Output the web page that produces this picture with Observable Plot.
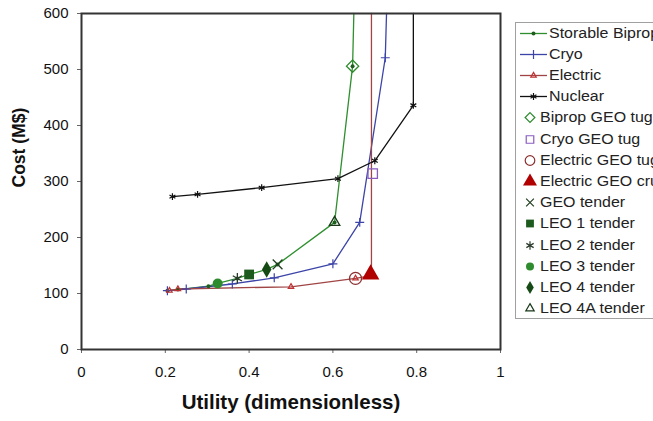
<!DOCTYPE html>
<html><head><meta charset="utf-8">
<script src="https://cdn.jsdelivr.net/npm/d3@7"></script>
<script src="https://cdn.jsdelivr.net/npm/@observablehq/plot@0.6"></script>
<style>
html,body{margin:0;padding:0;background:#fff;overflow:hidden}
#wrap{position:relative;width:653px;height:421px;overflow:hidden;font-family:"Liberation Sans",Arial,sans-serif}
#legend{position:absolute;left:515px;top:22px;width:170px;height:297px;border:1px solid #a0a0a0;box-sizing:border-box;background:#fff}
.item{position:absolute;left:0;height:21px;font-size:14px;color:#222;white-space:nowrap}
.item svg{position:absolute;top:0}
.item span{position:absolute;top:2px;transform:scaleX(1.14);transform-origin:0 50%}
</style></head>
<body><div id="wrap"><div id="chart"></div><div id="legend"></div></div>
<script>
// ---- data ----
const seriesNames = ["Storable Biprop", "Cryo", "Electric", "Nuclear"];
const bipropU = [0.205, 0.23, 0.303, 0.325, 0.372, 0.40, 0.442, 0.468, 0.604, 0.647, 0.65];
const bipropC = [105, 107, 113, 118, 127, 134, 143, 152, 227, 506, 600];
const cryoU = [0.205, 0.25, 0.36, 0.46, 0.60, 0.664, 0.725, 0.728];
const cryoC = [105, 108, 117, 128, 153, 227, 521, 600];
const electricU = [0.21, 0.23, 0.50, 0.654, 0.692, 0.692];
const electricC = [105, 108, 112, 127, 132, 600];
const nuclearU = [0.217, 0.277, 0.43, 0.612, 0.70, 0.792, 0.792];
const nuclearC = [273, 277, 289, 305, 337, 436, 600];

const pointNames = ["Biprop GEO tug", "Cryo GEO tug", "Electric GEO tug", "Electric GEO cruiser",
  "GEO tender", "LEO 1 tender", "LEO 2 tender", "LEO 3 tender", "LEO 4 tender", "LEO 4A tender"];
const pointU = [0.647, 0.695, 0.654, 0.69, 0.468, 0.40, 0.372, 0.325, 0.442, 0.604];
const pointC = [506, 314, 127, 134, 152, 134, 127, 118, 143, 227];

const xTicks = [0, 0.2, 0.4, 0.6, 0.8, 1];
const yTicks = [0, 100, 200, 300, 400, 500, 600];

// ---- styles ----
const seriesStyle = {
  "Storable Biprop": {color: "#2f8f2f", symbol: "circle", r: 2, filled: true, mcolor: "#1d5e1d"},
  "Cryo": {color: "#3c44a8", symbol: "plus", r: 3, filled: false, mcolor: "#3c44a8"},
  "Electric": {color: "#a04545", symbol: "triangle2", r: 2.6, filled: false, mcolor: "#c03030"},
  "Nuclear": {color: "#111111", symbol: "asterisk", r: 3.2, filled: false, mcolor: "#111111"}
};
const pointStyle = {
  "Biprop GEO tug": {symbol: "diamond2", r: 5.5, color: "#2d8a2d", filled: false},
  "Cryo GEO tug": {symbol: "square2", r: 6, color: "#8a5cc0", filled: false},
  "Electric GEO tug": {symbol: "circle", r: 6, color: "#8b2f2f", filled: false},
  "Electric GEO cruiser": {symbol: "triangle", r: 6.5, color: "#b00000", filled: true},
  "GEO tender": {symbol: "times", r: 4.5, color: "#1f3d1f", filled: false},
  "LEO 1 tender": {symbol: "square", r: 5.5, color: "#1d5a1d", filled: true},
  "LEO 2 tender": {symbol: "asterisk", r: 5, color: "#2a3a2a", filled: false},
  "LEO 3 tender": {symbol: "circle", r: 5, color: "#2e8b2e", filled: true},
  "LEO 4 tender": {symbol: "diamond", r: 5, color: "#154a15", filled: true},
  "LEO 4A tender": {symbol: "triangle2", r: 5, color: "#1a3a1a", filled: false}
};

const seriesData = {
  "Storable Biprop": bipropU.map((u, i) => ({u, c: bipropC[i]})),
  "Cryo": cryoU.map((u, i) => ({u, c: cryoC[i]})),
  "Electric": electricU.map((u, i) => ({u, c: electricC[i]})),
  "Nuclear": nuclearU.map((u, i) => ({u, c: nuclearC[i]}))
};
const points = pointNames.map((name, i) => ({name, u: pointU[i], c: pointC[i]}));

const marks = [];
for (const name of seriesNames) {
  const s = seriesStyle[name];
  marks.push(Plot.line(seriesData[name], {x: "u", y: "c", stroke: s.color, strokeWidth: 1.3}));
}
for (const name of seriesNames) {
  const s = seriesStyle[name];
  marks.push(Plot.dot(seriesData[name].filter(d => d.c < 600), {
    x: "u", y: "c", symbol: s.symbol, r: s.r,
    fill: s.filled ? s.mcolor : "none", stroke: s.filled ? "none" : s.mcolor, strokeWidth: 1.2
  }));
}
for (const p of points) {
  const s = pointStyle[p.name];
  marks.push(Plot.dot([p], {
    x: "u", y: "c", symbol: s.symbol, r: s.r,
    fill: s.filled ? s.color : "none", stroke: s.filled ? "none" : s.color, strokeWidth: 1.3
  }));
}

const chart = Plot.plot({
  width: 653, height: 421,
  marginLeft: 81, marginRight: 153, marginTop: 13, marginBottom: 72,
  style: {fontFamily: '"Liberation Sans", Arial, sans-serif', background: "#fff", color: "#111"},
  x: {domain: [0, 1]},
  y: {domain: [0, 600]},
  marks: [
    Plot.axisX({ticks: xTicks, tickFormat: d => String(d), tickSize: 4, tickPadding: 13, fontSize: 15, label: null, stroke: "#666"}),
    Plot.axisY({ticks: yTicks, tickFormat: d => String(d), tickSize: 4, tickPadding: 9, fontSize: 15, label: null, stroke: "#666"}),
    ...marks,
    Plot.frame({stroke: "#333", strokeWidth: 2}),
    Plot.text(["Utility (dimensionless)"], {frameAnchor: "bottom", dy: 59, fontSize: 20.5, fontWeight: "bold", fill: "#111"}),
    Plot.text(["Cost (M$)"], {frameAnchor: "left", dx: -62, dy: 6, rotate: -90, fontSize: 17.5, fontWeight: "bold", fill: "#111"})
  ]
});
document.getElementById("chart").appendChild(chart);

// ---- legend ----
const legend = document.getElementById("legend");
const entries = [
  ...seriesNames.map(n => ({name: n, kind: "line", s: seriesStyle[n]})),
  ...pointNames.map(n => ({name: n, kind: "point", s: pointStyle[n]}))
];
const symMap = {circle: d3.symbolCircle, plus: d3.symbolPlus, triangle2: d3.symbolTriangle2, asterisk: d3.symbolAsterisk,
  diamond2: d3.symbolDiamond2, square2: d3.symbolSquare2, triangle: d3.symbolTriangle, times: d3.symbolTimes,
  square: d3.symbolSquare, diamond: d3.symbolDiamond};
entries.forEach((e, i) => {
  const div = document.createElement("div");
  div.className = "item";
  div.style.top = (10 + i * 21.2 - 10.5) + "px";
  const ns = "http://www.w3.org/2000/svg";
  const svg = document.createElementNS(ns, "svg");
  svg.setAttribute("width", 40); svg.setAttribute("height", 21);
  svg.style.left = "0px";
  const s = e.s;
  const cx = e.kind === "line" ? 17.5 : 14;
  if (e.kind === "line") {
    const ln = document.createElementNS(ns, "line");
    ln.setAttribute("x1", 4); ln.setAttribute("x2", 31); ln.setAttribute("y1", 10.5); ln.setAttribute("y2", 10.5);
    ln.setAttribute("stroke", s.color); ln.setAttribute("stroke-width", 1.3);
    svg.appendChild(ln);
  }
  const r = e.kind === "line" ? s.r : s.r * 0.8;
  const path = document.createElementNS(ns, "path");
  path.setAttribute("d", d3.symbol(symMap[s.symbol], Math.PI * r * r)());
  path.setAttribute("transform", `translate(${cx},10.5)`);
  const col = e.kind === "line" ? s.mcolor : s.color;
  path.setAttribute("fill", s.filled ? col : "none");
  path.setAttribute("stroke", s.filled ? "none" : col);
  path.setAttribute("stroke-width", 1.2);
  svg.appendChild(path);
  div.appendChild(svg);
  const span = document.createElement("span");
  span.textContent = e.name;
  span.style.left = (e.kind === "line" ? 33 : 24) + "px";
  div.appendChild(span);
  legend.appendChild(div);
});
</script></body></html>
